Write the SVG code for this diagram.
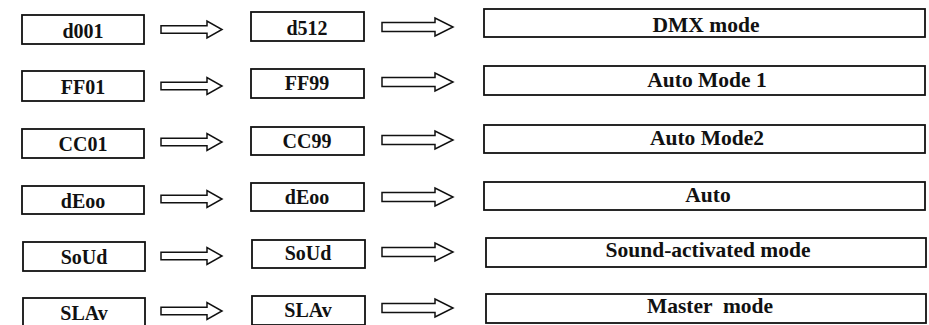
<svg xmlns="http://www.w3.org/2000/svg" xmlns:xlink="http://www.w3.org/1999/xlink" width="929" height="325" viewBox="0 0 929 325">
<style>
.box{fill:#fff;stroke:#111;stroke-width:1.8}
.arr{fill:#fff;stroke:#111;stroke-width:1.5;stroke-linejoin:miter}
text{font-family:"Liberation Serif","Times New Roman",serif;font-weight:bold;font-size:20px;fill:#111;text-anchor:middle}
.big{font-size:21.5px}
</style>
<defs>
<path id="arrA" class="arr" d="M0,-3.8 H46 V-8.5 L61,0 L46,8.5 V3.8 H0 Z"/>
<path id="arrB" class="arr" d="M0,-4.5 H53 V-9 L71,0 L53,9 V4.5 H0 Z"/>
</defs>
<rect width="929" height="325" fill="#fff"/>
<g id="connectors">
<use xlink:href="#arrA" x="161" y="29.5"/>
<use xlink:href="#arrB" x="382" y="27"/>
<use xlink:href="#arrA" x="161" y="86"/>
<use xlink:href="#arrB" x="382" y="82"/>
<use xlink:href="#arrA" x="161" y="142"/>
<use xlink:href="#arrB" x="382" y="140"/>
<use xlink:href="#arrA" x="161" y="199"/>
<use xlink:href="#arrB" x="382" y="197"/>
<use xlink:href="#arrA" x="161" y="256"/>
<use xlink:href="#arrB" x="382" y="252"/>
<use xlink:href="#arrA" x="161" y="311"/>
<use xlink:href="#arrB" x="382" y="308"/>
</g>
<g id="n-d001"><rect class="box" x="22" y="15" width="122" height="29"/><text x="83" y="38">d001</text></g>
<g id="n-d512"><rect class="box" x="251" y="12" width="113" height="29"/><text x="307" y="35">d512</text></g>
<g id="n-dmx"><rect class="box" x="484" y="9" width="441" height="28"/><text class="big" x="706" y="32">DMX mode</text></g>

<g id="n-FF01"><rect class="box" x="22" y="71" width="122" height="30"/><text x="83" y="94">FF01</text></g>
<g id="n-FF99"><rect class="box" x="251" y="69" width="113" height="29"/><text x="307" y="90">FF99</text></g>
<g id="n-auto1"><rect class="box" x="484" y="66" width="441" height="29"/><text class="big" x="707" y="87">Auto Mode 1</text></g>

<g id="n-CC01"><rect class="box" x="22" y="129" width="122" height="29"/><text x="83" y="151">CC01</text></g>
<g id="n-CC99"><rect class="box" x="251" y="127" width="113" height="28"/><text x="307" y="148">CC99</text></g>
<g id="n-auto2"><rect class="box" x="484" y="125" width="441" height="28"/><text class="big" x="707" y="145">Auto Mode2</text></g>

<g id="n-dEoo1"><rect class="box" x="22" y="186" width="122" height="28"/><text x="83" y="208">dEoo</text></g>
<g id="n-dEoo2"><rect class="box" x="251" y="183" width="113" height="28"/><text x="307" y="204">dEoo</text></g>
<g id="n-auto"><rect class="box" x="484" y="182" width="441" height="28"/><text class="big" x="708" y="202">Auto</text></g>

<g id="n-SoUd1"><rect class="box" x="23" y="242" width="122" height="29"/><text x="84" y="264">SoUd</text></g>
<g id="n-SoUd2"><rect class="box" x="252" y="240" width="113" height="28"/><text x="308" y="260">SoUd</text></g>
<g id="n-sound"><rect class="box" x="486" y="238" width="440" height="29"/><text class="big" x="708" y="257">Sound-activated mode</text></g>

<g id="n-SLAv1"><rect class="box" x="23" y="298" width="122" height="30"/><text x="84" y="320">SLAv</text></g>
<g id="n-SLAv2"><rect class="box" x="252" y="296" width="113" height="29"/><text x="308" y="317">SLAv</text></g>
<g id="n-master"><rect class="box" x="486" y="294" width="440" height="29"/><text class="big" x="710" y="313" xml:space="preserve">Master  mode</text></g>
</svg>
